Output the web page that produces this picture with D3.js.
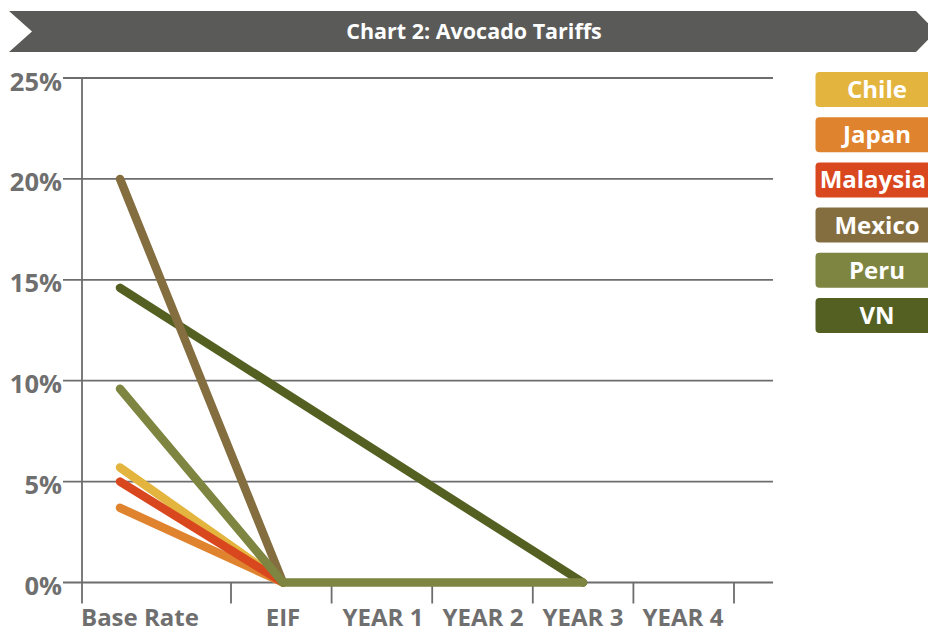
<!DOCTYPE html>
<html>
<head>
<meta charset="utf-8">
<script src="https://cdn.jsdelivr.net/npm/d3@7"></script>
<style>
  html, body { margin: 0; padding: 0; background: #fff; }
  svg { display: block; font-family: "Open Sans", "DejaVu Sans", sans-serif; }
</style>
</head>
<body>
<svg id="chart" width="928" height="634"></svg>
<script>
// ---- data ----
const title = "Chart 2: Avocado Tariffs";
const categories = ["Base Rate", "EIF", "YEAR 1", "YEAR 2", "YEAR 3", "YEAR 4"];
const yTicks = [0, 5, 10, 15, 20, 25];
const seriesNames = ["Chile", "Japan", "Malaysia", "Mexico", "Peru", "VN"];
const seriesColors = ["#e3b53f", "#e0832e", "#d9471f", "#846e40", "#7e8540", "#546022"];
const chile    = [5.7, 0, null, null, null, null];
const japan    = [3.7, 0, null, null, null, null];
const malaysia = [5.0, 0, null, null, null, null];
const mexico   = [20.0, 0, null, null, null, null];
const peru     = [9.6, 0, 0, 0, 0, null];
const vn       = [14.6, null, null, null, 0, null];
const seriesValues = [chile, japan, malaysia, mexico, peru, vn];
const drawOrder = ["VN", "Chile", "Japan", "Malaysia", "Mexico", "Peru"];

// ---- layout ----
const svg = d3.select("#chart");
const textGray = "#6f6f6f";
const gridGray = "#6d6d6d";

const y = d3.scaleLinear().domain([0, 25]).range([582.5, 78]);
// positions of category points (first band is wider)
const xPoint = d3.scaleLinear().domain([0, 1, 5]).range([120, 283, 683]);
// category boundaries (ticks)
const xEdge = d3.scaleLinear().domain([0, 1, 6]).range([82, 231, 734]);
const axisX = xEdge(0);
const gridRight = 773;

// header banner
const hTop = 11, hBot = 52, hMid = 31.5;
svg.append("path")
  .attr("d", `M9,${hTop} L916,${hTop} L936,${hMid} L916,${hBot} L9,${hBot} L32,${hMid} Z`)
  .attr("fill", "#5a5a58");
svg.append("text")
  .attr("x", 474).attr("y", 38.5)
  .attr("text-anchor", "middle")
  .attr("fill", "#fff")
  .attr("font-size", 21.5).attr("font-weight", 700)
  .text(title);

// gridlines + y labels
const gy = svg.append("g");
gy.selectAll("line").data(yTicks).join("line")
  .attr("x1", 63).attr("x2", gridRight)
  .attr("y1", d => y(d)).attr("y2", d => y(d))
  .attr("stroke", gridGray).attr("stroke-width", 1.8);
gy.selectAll("text").data(yTicks).join("text")
  .attr("x", 62).attr("y", d => y(d) + 12.5)
  .attr("text-anchor", "end")
  .attr("fill", textGray)
  .attr("font-size", 25.5).attr("font-weight", 700)
  .text(d => d + "%");

// y axis line
svg.append("line")
  .attr("x1", axisX).attr("x2", axisX)
  .attr("y1", y(25)).attr("y2", y(0) + 21)
  .attr("stroke", gridGray).attr("stroke-width", 1.8);

// x ticks
const edges = d3.range(1, 7);
svg.append("g").selectAll("line").data(edges).join("line")
  .attr("x1", d => xEdge(d)).attr("x2", d => xEdge(d))
  .attr("y1", y(0)).attr("y2", y(0) + 21)
  .attr("stroke", gridGray).attr("stroke-width", 1.8);

// x labels
svg.append("g").selectAll("text").data(categories).join("text")
  .attr("x", (d, i) => i === 0 ? axisX - 1 : xPoint(i))
  .attr("y", 626)
  .attr("text-anchor", (d, i) => i === 0 ? "start" : "middle")
  .attr("fill", textGray)
  .attr("font-size", 24).attr("font-weight", 700)
  .text(d => d);

// lines
const line = d3.line()
  .x(d => xPoint(d.i))
  .y(d => y(d.v));
const gl = svg.append("g");
drawOrder.forEach(name => {
  const k = seriesNames.indexOf(name);
  const pts = seriesValues[k]
    .map((v, i) => ({ i, v }))
    .filter(d => d.v !== null);
  gl.append("path")
    .attr("d", line(pts))
    .attr("fill", "none")
    .attr("stroke", seriesColors[k])
    .attr("stroke-width", 8.5)
    .attr("stroke-linecap", "round")
    .attr("stroke-linejoin", "round");
});

// legend
const lg = svg.append("g");
seriesNames.forEach((name, k) => {
  const top = 72 + k * 45.2;
  lg.append("rect")
    .attr("x", 815.5).attr("y", top)
    .attr("width", 140).attr("height", 35)
    .attr("rx", 4).attr("ry", 4)
    .attr("fill", seriesColors[k]);
  const t = lg.append("text")
    .attr("x", 877).attr("y", top + 26)
    .attr("text-anchor", "middle")
    .attr("fill", "#fff")
    .attr("font-size", 24).attr("font-weight", 700)
    .text(name);
  const w = t.node().getComputedTextLength();
  const maxRight = 926;
  if (877 + w / 2 > maxRight) t.attr("x", maxRight - w / 2);
});
</script>
</body>
</html>
